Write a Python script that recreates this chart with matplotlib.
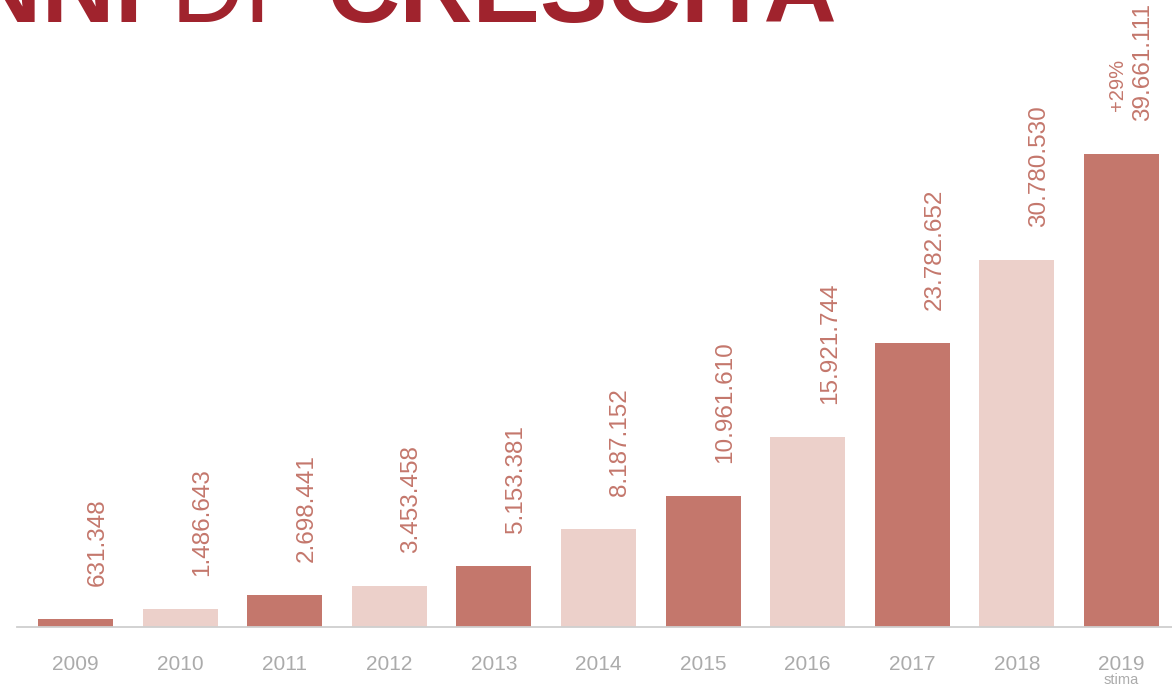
import matplotlib
matplotlib.use("Agg")
import matplotlib.pyplot as plt

plt.rcParams['font.family'] = ['Liberation Sans', 'DejaVu Sans']

years = ["2009", "2010", "2011", "2012", "2013", "2014", "2015", "2016", "2017", "2018", "2019"]
values = [631348, 1486643, 2698441, 3453458, 5153381, 8187152, 10961610,
          15921744, 23782652, 30780530, 39661111]
growth_note = "+29%"
estimate_note = "stima"

DARK = "#C4776C"
LIGHT = "#ECD0CA"
TITLE_RED = "#A0232D"
GREY_TXT = "#ABABAB"

W, H = 1172, 691
PX = 72 / 100  # points per pixel at 100 dpi
fig = plt.figure(figsize=(W / 100, H / 100), dpi=100)
ax = fig.add_axes([17 / W, (H - 627) / H, (W - 17) / W, 627 / H])

colors = [DARK if i % 2 == 0 else LIGHT for i in range(len(years))]
x = list(range(len(years)))
ax.bar(x, values, width=0.717, color=colors, zorder=2)

ax.set_xlim(-0.559, 10.483)
ax.set_ylim(0, values[-1] * 627 / 473)

for s in ("top", "right", "left"):
    ax.spines[s].set_visible(False)
ax.spines["bottom"].set_color("#CFCFCF")
ax.spines["bottom"].set_linewidth(1.3)
ax.set_yticks([])
ax.set_xticks(x)
ax.set_xticklabels(years, fontsize=15, color=GREY_TXT)
ax.tick_params(axis="x", length=0, pad=20)

# value labels, rotated, sitting above each bar
for xi, v in zip(x, values):
    lab = f"{v:,}".replace(",", ".")
    ax.annotate(lab, (xi, v), xytext=(22 * PX, 33 * PX), textcoords="offset points",
                rotation=90, ha="center", va="bottom", fontsize=17.5, color=DARK)

ax.annotate(growth_note, (x[-1], values[-1]), xytext=(-4 * PX, 43 * PX),
            textcoords="offset points", rotation=90, ha="center", va="bottom",
            fontsize=14.5, color=DARK)

ax.annotate(estimate_note, (x[-1], 0), xytext=(0, -53 * PX), textcoords="offset points",
            ha="center", va="center", fontsize=10.5, color=GREY_TXT)

# headline, mostly running off the top edge
base_y = 1 - 22 / H
fig.text(143 / W, base_y, "ANNI", ha="right", va="baseline", fontsize=73,
         fontweight="bold", color=TITLE_RED)
fig.text(272 / W, base_y, "DI", ha="right", va="baseline", fontsize=73,
         fontweight="normal", color=TITLE_RED)
fig.text(838 / W, base_y, "CRESCITA", ha="right", va="baseline", fontsize=73,
         fontweight="bold", color=TITLE_RED)

fig.savefig("out.png", dpi=100)
